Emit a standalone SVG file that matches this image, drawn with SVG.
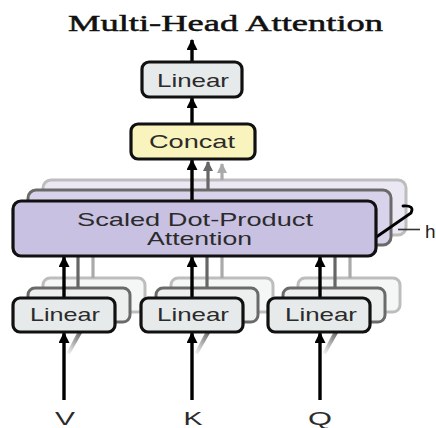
<svg xmlns="http://www.w3.org/2000/svg" width="436" height="428" viewBox="0 0 436 428">
<defs>
<style>
.lbl{font-family:"Liberation Sans",Arial,sans-serif;font-size:19px;fill:#2b2b2b;text-anchor:middle}
.io{font-family:"Liberation Sans",Arial,sans-serif;font-size:18px;fill:#2b2b2b;text-anchor:middle}
.front{stroke:#111;stroke-width:3.2}
.mid{stroke:#6a6a6a;stroke-width:3}
.back{stroke:#bdbdbd;stroke-width:3}
.lin.front{fill:#e6eaea}
.lin.mid{fill:#edefef}
.lin.back{fill:#f5f6f6}
.sdpa.front{fill:#c8c1e1}
.sdpa.mid{fill:#d8d3eb}
.sdpa.back{fill:#ebe8f4}
.ar{stroke:#000;stroke-width:3.4;fill:none}
.arg{stroke:#666;stroke-width:3.2;fill:none}
.arl{stroke:#aaa;stroke-width:3.2;fill:none}
</style>
<marker id="ah" viewBox="0 0 10 10" refX="9" refY="5" markerWidth="11" markerHeight="11" markerUnits="userSpaceOnUse" orient="auto"><path d="M0,0 L10,5 L0,10 z" fill="#000"/></marker>
<marker id="ahg" viewBox="0 0 10 10" refX="9" refY="5" markerWidth="10" markerHeight="10" markerUnits="userSpaceOnUse" orient="auto"><path d="M0,0 L10,5 L0,10 z" fill="#666"/></marker>
<marker id="ahl" viewBox="0 0 10 10" refX="9" refY="5" markerWidth="10" markerHeight="10" markerUnits="userSpaceOnUse" orient="auto"><path d="M0,0 L10,5 L0,10 z" fill="#aaa"/></marker>
<linearGradient id="sh" x1="0" y1="1" x2="1" y2="0"><stop offset="0" stop-color="#ffffff"/><stop offset="1" stop-color="#666"/></linearGradient>
</defs>
<rect width="436" height="428" fill="#fff"/>
<text x="225.5" y="31" font-family="'Liberation Serif','Times New Roman',serif" font-size="24" fill="#111" stroke="#111" stroke-width="0.5" text-anchor="middle" textLength="315" lengthAdjust="spacingAndGlyphs">Multi-Head Attention</text>

<g id="sdpa-back">
<rect class="sdpa back" x="43" y="180" width="363" height="55" rx="8"/>
<rect class="sdpa mid" x="28" y="190" width="363" height="55" rx="8"/>
</g>
<g id="linear-back">
<rect class="lin back" x="43" y="278" width="102" height="34" rx="7"/>
<rect class="lin back" x="171" y="278" width="102" height="34" rx="7"/>
<rect class="lin back" x="298" y="278" width="102" height="34" rx="7"/>
<rect class="lin mid" x="28" y="288" width="102" height="34" rx="7"/>
<rect class="lin mid" x="156" y="288" width="102" height="34" rx="7"/>
<rect class="lin mid" x="283" y="288" width="102" height="34" rx="7"/>
</g>

<g id="connectors">
<line class="arl" x1="93" y1="278" x2="93" y2="235"/>
<line class="arl" x1="222" y1="278" x2="222" y2="235"/>
<line class="arl" x1="350" y1="278" x2="350" y2="235"/>
<line class="arg" x1="78" y1="288" x2="78" y2="245"/>
<line class="arg" x1="207" y1="288" x2="207" y2="245"/>
<line class="arg" x1="335" y1="288" x2="335" y2="245"/>
<line class="arl" x1="222" y1="180" x2="222" y2="164" marker-end="url(#ahl)"/>
<line class="arg" x1="208" y1="190" x2="208" y2="162" marker-end="url(#ahg)"/>
<line class="ar" x1="192" y1="201" x2="192" y2="160" marker-end="url(#ah)"/>
<line class="ar" x1="192" y1="124" x2="192" y2="98" marker-end="url(#ah)"/>
<line class="ar" x1="192" y1="62" x2="192" y2="40" marker-end="url(#ah)"/>
<line class="ar" x1="64" y1="298" x2="64" y2="257" marker-end="url(#ah)"/>
<line class="ar" x1="192" y1="298" x2="192" y2="257" marker-end="url(#ah)"/>
<line class="ar" x1="320" y1="298" x2="320" y2="257" marker-end="url(#ah)"/>
<polygon points="66,354 77,333 82,333 70,354" fill="url(#sh)"/>
<polygon points="194,354 205,333 210,333 198,354" fill="url(#sh)"/>
<polygon points="322,354 333,333 338,333 326,354" fill="url(#sh)"/>
<line class="ar" x1="64" y1="400" x2="64" y2="333" marker-end="url(#ah)"/>
<line class="ar" x1="192" y1="400" x2="192" y2="333" marker-end="url(#ah)"/>
<line class="ar" x1="320" y1="400" x2="320" y2="333" marker-end="url(#ah)"/>
<path d="M403,206 Q415,205 411,213 L372,240 Q368,243 361,242" fill="none" stroke="#000" stroke-width="2.8" stroke-linecap="round"/>
<line x1="398" y1="229.5" x2="420" y2="229.5" stroke="#333" stroke-width="1.6"/>
</g>

<g id="sdpa">
<rect class="sdpa front" x="13" y="201" width="363" height="55" rx="8"/>
<text class="lbl" x="195" y="226" textLength="236" lengthAdjust="spacingAndGlyphs">Scaled Dot-Product</text>
<text class="lbl" x="199.5" y="245" textLength="105" lengthAdjust="spacingAndGlyphs">Attention</text>
</g>
<g id="concat">
<rect x="131" y="124" width="124" height="35" rx="7" fill="#f9f4bd" stroke="#111" stroke-width="3.2"/>
<text class="lbl" x="192" y="148" textLength="86" lengthAdjust="spacingAndGlyphs">Concat</text>
</g>
<g id="linear-out">
<rect class="lin front" x="142" y="62" width="100" height="35" rx="7"/>
<text class="lbl" x="193" y="87" textLength="72" lengthAdjust="spacingAndGlyphs">Linear</text>
</g>
<g id="linear-v">
<rect class="lin front" x="13" y="298" width="102" height="34" rx="7"/>
<text class="lbl" x="65" y="321" textLength="70" lengthAdjust="spacingAndGlyphs">Linear</text>
</g>
<g id="linear-k">
<rect class="lin front" x="141" y="298" width="102" height="34" rx="7"/>
<text class="lbl" x="193" y="321" textLength="72" lengthAdjust="spacingAndGlyphs">Linear</text>
</g>
<g id="linear-q">
<rect class="lin front" x="268" y="298" width="102" height="34" rx="7"/>
<text class="lbl" x="321" y="321" textLength="72" lengthAdjust="spacingAndGlyphs">Linear</text>
</g>
<g id="inputs">
<text class="io" x="65" y="425" textLength="20" lengthAdjust="spacingAndGlyphs">V</text>
<text class="io" x="193" y="425" textLength="19" lengthAdjust="spacingAndGlyphs">K</text>
<text class="io" x="320" y="425" textLength="24" lengthAdjust="spacingAndGlyphs">Q</text>
<text x="425" y="238" font-family="'Liberation Sans',Arial,sans-serif" font-size="19" fill="#222">h</text>
</g>
</svg>
